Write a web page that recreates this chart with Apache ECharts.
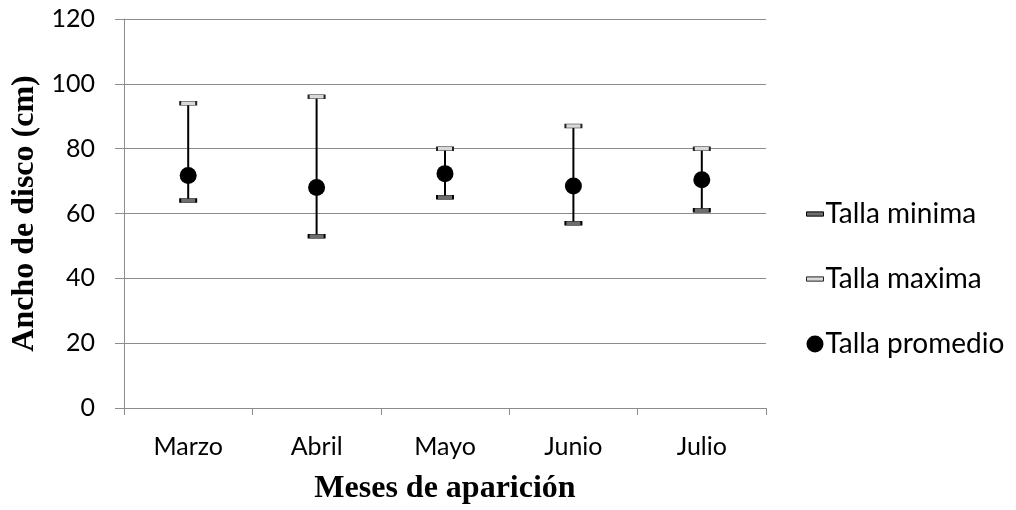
<!DOCTYPE html>
<html>
<head>
<meta charset="utf-8">
<script src="https://cdn.jsdelivr.net/npm/echarts@6/dist/echarts.min.js"></script>
<style>
html,body{margin:0;padding:0;background:#fff;}
#chart{width:1016px;height:510px;}
</style>
</head>
<body>
<div id="chart"></div>
<script>
// Disc width by month of appearance
const months = ['Marzo', 'Abril', 'Mayo', 'Junio', 'Julio'];
const tallaMinima = [64, 53, 65, 57, 61];
const tallaMaxima = [94, 96, 80, 87, 80];
const tallaPromedio = [71.7, 68, 72.3, 68.5, 70.4];
const yTicks = [0, 20, 40, 60, 80, 100, 120];

const fontSans = 'Lato, "Open Sans", sans-serif';
const fontSerif = '"Liberation Serif", "DejaVu Serif", serif';
const gridGray = '#8c8c8c';

const chart = echarts.init(document.getElementById('chart'));

const capIcon = 'path://M0,0h16v4h-16z';

chart.setOption({
  animation: false,
  backgroundColor: '#fff',
  grid: { left: 124, right: 250, top: 19, bottom: 102, outerBoundsMode: 'none', containLabel: false },
  legend: {
    orient: 'vertical',
    left: 806,
    top: 200,
    padding: 0,
    itemWidth: 17,
    itemHeight: 17,
    itemGap: 37,
    textStyle: { fontFamily: fontSans, fontSize: 28, color: '#000', padding: [0, 0, 0, -3] },
    data: [
      { name: 'Talla minima', icon: capIcon, itemStyle: { color: '#6e6e6e', borderColor: '#000', borderWidth: 1, opacity: 1 } },
      { name: 'Talla maxima', icon: capIcon, itemStyle: { color: '#d9d9d9', borderColor: '#222', borderWidth: 1, opacity: 1 } },
      { name: 'Talla promedio', icon: 'circle', itemStyle: { color: '#000', opacity: 1 } }
    ]
  },
  xAxis: {
    type: 'category',
    data: months,
    boundaryGap: true,
    name: 'Meses de aparición',
    nameLocation: 'middle',
    nameGap: 65,
    nameTextStyle: { fontFamily: fontSerif, fontWeight: 'bold', fontSize: 32, color: '#000' },
    axisLine: { lineStyle: { color: gridGray, width: 1 } },
    axisTick: { show: true, length: 7, alignWithLabel: false, lineStyle: { color: gridGray } },
    axisLabel: { fontFamily: fontSans, fontSize: 25, color: '#000', margin: 26 }
  },
  yAxis: {
    type: 'value',
    min: 0,
    max: 120,
    interval: 20,
    name: 'Ancho de disco (cm)',
    nameLocation: 'middle',
    nameGap: 78,
    nameRotate: 90,
    nameTextStyle: { fontFamily: fontSerif, fontWeight: 'bold', fontSize: 32, color: '#000' },
    axisLine: { show: true, lineStyle: { color: gridGray, width: 1 } },
    axisTick: { show: true, length: 9, lineStyle: { color: gridGray } },
    axisLabel: {
      fontFamily: fontSans, fontSize: 25, color: '#000', margin: 29,
      formatter: v => (yTicks.includes(v) ? String(v) : '')
    },
    splitLine: { show: true, lineStyle: { color: gridGray, width: 1 } }
  },
  series: [
    {
      // vertical range line from minimum to maximum
      type: 'custom',
      name: 'rango',
      silent: true,
      z: 2,
      data: months.map((m, i) => [i, tallaMinima[i], tallaMaxima[i]]),
      renderItem: (params, api) => {
        const lo = api.coord([api.value(0), api.value(1)]);
        const hi = api.coord([api.value(0), api.value(2)]);
        return {
          type: 'line',
          shape: { x1: lo[0], y1: lo[1], x2: hi[0], y2: hi[1] },
          style: { stroke: '#000', lineWidth: 2 }
        };
      }
    },
    {
      name: 'Talla minima',
      type: 'scatter',
      z: 3,
      symbol: 'rect',
      symbolSize: [16, 4],
      itemStyle: { color: '#6e6e6e', borderColor: '#000', borderWidth: 1, opacity: 1 },
      data: tallaMinima
    },
    {
      name: 'Talla maxima',
      type: 'scatter',
      z: 3,
      symbol: 'rect',
      symbolSize: [16, 4],
      itemStyle: { color: '#d9d9d9', borderColor: '#222', borderWidth: 1, opacity: 1 },
      data: tallaMaxima
    },
    {
      name: 'Talla promedio',
      type: 'scatter',
      z: 4,
      symbol: 'circle',
      symbolSize: 17,
      itemStyle: { color: '#000', opacity: 1 },
      data: tallaPromedio
    }
  ]
});
</script>
</body>
</html>
